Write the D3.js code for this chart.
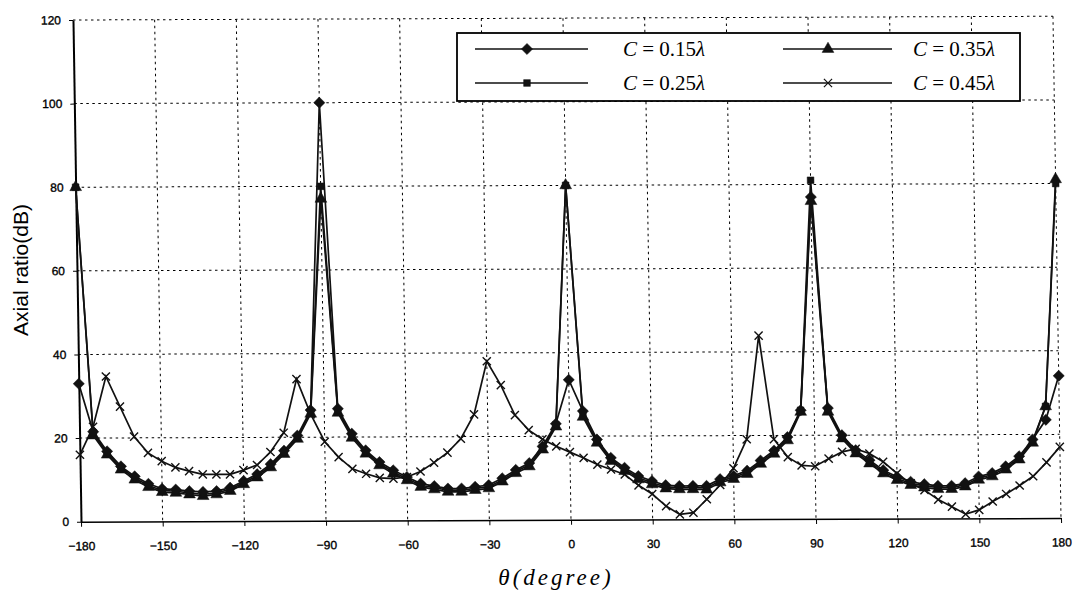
<!DOCTYPE html>
<meta charset="utf-8">
<style>
body { margin: 0; background: #fff; }
.grid line { stroke: #000; stroke-width: 1; stroke-dasharray: 2.5,3.5; }
.axis text { font-family: "Liberation Sans", Arial, sans-serif; font-size: 12px; fill: #000; stroke: #000; stroke-width: 0.35px; }
.axis path, .axis line { stroke: #000; }
.series { fill: none; stroke: #111; stroke-width: 1.7px; }
.legtext { font-family: "Liberation Serif", "Times New Roman", serif; font-size: 21px; fill: #000; }
</style>
<body>
<script src="https://cdn.jsdelivr.net/npm/d3@7"></script>
<script>

// angles (degrees)
var theta = [-180,-175,-170,-165,-160,-155,-150,-145,-140,-135,-130,-125,-120,-115,-110,-105,-100,-95,-90,
  -85,-80,-75,-70,-65,-60,-55,-50,-45,-40,-35,-30,-25,-20,-15,-10,-5,0,
  5,10,15,20,25,30,35,40,45,50,55,60,65,70,75,80,85,90,
  95,100,105,110,115,120,125,130,135,140,145,150,155,160,165,170,175,180];

// C = 0.15 lambda (diamond)
var c15 = [33,21.5,16.8,13.2,10.8,9,7.8,7.6,7.2,7,7.2,8,9.6,11.2,13.6,16.8,20.4,26.5,100,
  26.8,20.8,16.8,14,12,10.4,8.8,8.2,7.6,7.6,8,8.4,10,12,13.6,17.6,23,33.5,
  26,19.2,14.8,12.4,10.4,9.2,8.2,8,8,8,9.6,10.4,11.6,14,16.4,19.6,26,77,
  26.5,20,16.4,14,11.6,10,8.8,8.2,7.8,7.8,8.4,10,10.8,12.4,14.8,18.8,23.5,34];

// C = 0.25 lambda (square)
var c25 = [80,21,16.4,12.8,10.4,8.6,7.4,7.2,6.8,6.4,6.8,7.6,9.2,10.8,13.2,16.4,20,26,80,
  26.3,20.3,16.4,13.6,11.6,10,8.4,7.8,7.2,7.2,7.6,8,9.6,11.6,13.2,17.2,22.7,80,
  25,18.8,14.4,12,10,8.8,7.8,7.6,7.6,7.5,9.2,10,11.2,13.6,16,19.2,26,81,
  26,19.6,16,13.6,11.2,9.6,8.4,7.8,7.4,7.4,8,9.6,10.4,12,14.4,18.4,26.7,80];

// C = 0.35 lambda (triangle)
var c35 = [80,20.6,16,12.4,10,8.2,7,6.8,6.4,6,6.4,7.2,8.8,10.4,12.8,16,19.6,25.6,77,
  25.8,19.8,16,13.2,11.2,9.6,8,7.4,6.8,6.8,7.2,7.6,9.2,11.2,12.8,16.8,22.3,80,
  24.6,18.4,14,11.6,9.6,8.4,7.4,7.2,7.2,7.1,8.8,9.6,10.8,13.2,15.6,18.8,25.6,76,
  25.6,19.2,15.6,13.2,10.8,9.2,8,7.4,7,7,7.6,9.2,10,11.6,14,18,26.7,81];

// C = 0.45 lambda (cross)
var c45 = [16,22.7,34.7,27.5,20.3,16.4,14.4,12.9,12,11.2,11.2,11.2,12.2,13.4,16.5,21.1,33.9,25.5,18.9,
  15.2,12.4,11.2,10.2,10,10.4,11.7,13.8,16.2,19.5,25.3,38,32.3,25.1,21.5,19.3,17.6,16.2,
  14.8,13.2,12,10.8,8.2,6.1,3.2,1.2,1.6,4.8,8.2,12.2,19.1,43.9,19.1,14.8,12.8,12.6,
  14.4,16,16.7,15.6,13.6,10.8,8.4,6.8,4.5,2.8,1,2,4,5.8,7.8,10,13.3,17];

var xTicks = [-180,-150,-120,-90,-60,-30,0,30,60,90,120,150,180];
var yTicks = [0,20,40,60,80,100,120];
var labels = ["C = 0.15", "C = 0.25", "C = 0.35", "C = 0.45"];

var width = 980, height = 501.7;

var svg = d3.select("body").append("svg")
    .attr("width", 1077)
    .attr("height", 591);

// scanned page is slightly skewed, so the plot group is too
var g = svg.append("g")
    .attr("transform", "matrix(1,-0.0038,0.016,1,81,521.7) translate(0," + (-height) + ")");

var x = d3.scaleLinear().domain([-180, 180]).range([0, width]);
var y = d3.scaleLinear().domain([0, 120]).range([height, 0]);

// grid
var grid = g.append("g").attr("class", "grid");
grid.selectAll(".vg").data(xTicks.slice(1)).enter().append("line")
    .attr("x1", function(d) { return x(d); }).attr("x2", function(d) { return x(d); })
    .attr("y1", 0).attr("y2", height);
grid.selectAll(".hg").data(yTicks.slice(1)).enter().append("line")
    .attr("y1", function(d) { return y(d); }).attr("y2", function(d) { return y(d); })
    .attr("x1", 0).attr("x2", width);

// axes
g.append("g")
    .attr("class", "axis")
    .attr("transform", "translate(0," + height + ")")
    .call(d3.axisBottom(x).tickValues(xTicks).tickSizeInner(5).tickSizeOuter(0).tickPadding(15))
    .call(function(s) { s.select(".domain").attr("stroke", "#555").attr("stroke-width", 1.5); });

g.append("g")
    .attr("class", "axis")
    .call(d3.axisLeft(y).tickValues(yTicks).tickSizeInner(4).tickSizeOuter(0).tickPadding(8))
    .call(function(s) { s.select(".domain").attr("stroke-width", 2); });

// lines
var line = d3.line()
    .x(function(d, i) { return x(theta[i]); })
    .y(function(d) { return y(d); });

var all = [c15, c25, c35, c45];
all.forEach(function(s, k) {
  g.append("path")
    .datum(s)
    .attr("class", "series")
    .attr("stroke-width", k == 3 ? 1.3 : 1.7)
    .attr("d", line);
});

var diamond = d3.symbol().type(d3.symbolDiamond2).size(80);
var square = d3.symbol().type(d3.symbolSquare).size(45);
var tri = d3.symbol().type(d3.symbolTriangle).size(60);
var cross = d3.symbol().type(d3.symbolX).size(45);

function drawMarks(sel, data, sym, isCross) {
  sel.selectAll("path.m").data(data).enter().append("path")
    .attr("class", "m")
    .attr("transform", function(d, i) { return "translate(" + x(theta[i]) + "," + y(d) + ")"; })
    .attr("d", sym)
    .attr("fill", isCross ? "none" : "#111")
    .attr("stroke", "#111")
    .attr("stroke-width", isCross ? 1.4 : 0.5);
}
drawMarks(g.append("g"), c45, cross, true);
drawMarks(g.append("g"), c35, tri, false);
drawMarks(g.append("g"), c25, square, false);
drawMarks(g.append("g"), c15, diamond, false);

// axis titles
svg.append("text")
    .attr("transform", "translate(28,270) rotate(-90)")
    .attr("text-anchor", "middle")
    .style("font-family", "'Liberation Sans', Arial, sans-serif")
    .style("font-size", "21px")
    .text("Axial ratio(dB)");

svg.append("text")
    .attr("x", 556).attr("y", 585)
    .attr("text-anchor", "middle")
    .style("font-family", "'Liberation Serif', 'Times New Roman', serif")
    .style("font-style", "italic")
    .style("font-size", "23px")
    .style("letter-spacing", "3px")
    .text("\u03b8(degree)");

// legend
var leg = svg.append("g");
leg.append("rect")
    .attr("x", 457).attr("y", 33).attr("width", 563).attr("height", 68)
    .attr("fill", "#fff").attr("stroke", "#000").attr("stroke-width", 1.8);

var legItems = [
  {x0: 475, x1: 588, mx: 527, y: 49, sym: diamond, cross: false, tx: 623, label: labels[0]},
  {x0: 475, x1: 588, mx: 527, y: 83, sym: square, cross: false, tx: 623, label: labels[1]},
  {x0: 783, x1: 892, mx: 828, y: 49, sym: tri, cross: false, tx: 913, label: labels[2]},
  {x0: 783, x1: 892, mx: 828, y: 83, sym: cross, cross: true, tx: 913, label: labels[3]}
];
legItems.forEach(function(d) {
  leg.append("line")
    .attr("x1", d.x0).attr("x2", d.x1).attr("y1", d.y).attr("y2", d.y)
    .attr("stroke", "#111").attr("stroke-width", 1.4);
  leg.append("path")
    .attr("transform", "translate(" + d.mx + "," + d.y + ")")
    .attr("d", d.sym)
    .attr("fill", d.cross ? "none" : "#111")
    .attr("stroke", "#111")
    .attr("stroke-width", d.cross ? 1.2 : 0.5);
  var t = leg.append("text").attr("class", "legtext")
    .attr("x", d.tx).attr("y", d.y + 7);
  t.append("tspan").style("font-style", "italic").text("C");
  t.append("tspan").text(d.label.slice(1));
  t.append("tspan").style("font-style", "italic").text("\u03bb");
});

</script>
</body>
